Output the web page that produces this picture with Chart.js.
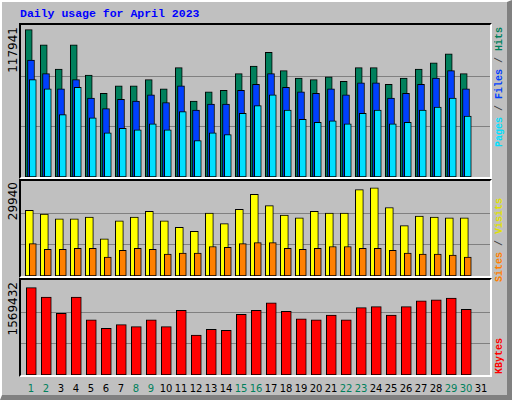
<!DOCTYPE html>
<html>
<head>
<meta charset="utf-8">
<script src="https://cdn.jsdelivr.net/npm/chart.js@4"></script>
<style>
  body { margin:0; width:512px; height:400px; overflow:hidden; }
  #frame { position:absolute; left:0; top:0; background:#c0c0c0;
           border-top:2px solid #fff; border-left:2px solid #fff; border-right:5px solid #808080; border-bottom:5px solid #808080; box-sizing:border-box; width:512px; height:400px; }
  .panel { position:absolute; left:19px; width:469px; border-top:2px solid #000; border-left:2px solid #000;
           border-right:2px solid #fff; border-bottom:2px solid #fff; }
  .panel canvas { display:block; }
  .title { position:absolute; left:20px; top:7px; font:bold 11.5px "Liberation Mono", monospace; color:#0000ff; }
  .vmax { position:absolute; left:6px; font:12px "DejaVu Sans", sans-serif; writing-mode:vertical-rl; transform:rotate(180deg); }
  .rlab { position:absolute; left:494px; font:bold 10px "Liberation Mono", monospace; writing-mode:vertical-rl; transform:rotate(180deg); white-space:nowrap; }
  .day { position:absolute; top:383px; width:16px; text-align:center; font:10px "DejaVu Sans", sans-serif; }
</style>
</head>
<body>
<div id="frame"></div>
<div class="title">Daily usage for April 2023</div>

<div class="panel" style="top:23px;height:152px"><canvas id="c1" width="469" height="152"></canvas></div>
<div class="panel" style="top:179px;height:95px"><canvas id="c2" width="469" height="95"></canvas></div>
<div class="panel" style="top:278px;height:95px"><canvas id="c3" width="469" height="95"></canvas></div>

<div class="vmax" style="top:27px">117941</div>
<div class="vmax" style="top:182px">29940</div>
<div class="vmax" style="top:282px">1569432</div>

<div class="rlab" style="top:27px"><span style="color:#00e0ff">Pages</span><span style="color:#404040"> / </span><span style="color:#0040ff">Files</span><span style="color:#404040"> / </span><span style="color:#00805c">Hits</span></div>
<div class="rlab" style="top:198px"><span style="color:#ff8000">Sites</span><span style="color:#404040"> / </span><span style="color:#e0e000">Visits</span></div>
<div class="rlab" style="top:338px;color:#ff0000">KBytes</div>

<div id="days"></div>

<script>
// ── DATA ──────────────────────────────────────────────
const days = Array.from({ length: 31 }, (_, i) => i + 1);
const weekendDays = [1, 2, 8, 9, 15, 16, 22, 23, 29, 30];

const hitsMax = 117941;
const hits  = [114400,102600,83700,102600,79000,64900,70800,70800,75500,68400,84900,59000,66000,67200,80200,86100,96700,82600,76700,75500,77800,74300,84900,84900,71900,76700,83700,88500,95500,80200,0];
const files = [90800,80200,68400,75500,61300,53100,60200,59000,63700,57800,70800,51900,56600,56600,67200,71900,80200,69600,66000,64900,68400,63700,73100,73100,61300,64900,71900,76700,82600,68400,0];
const pages = [75500,68400,48400,69600,46000,34200,37700,36600,41300,36600,50700,28300,34200,33000,49500,55400,63700,51900,44800,42500,43600,41300,49500,51900,41300,42500,51900,54300,61300,47200,0];

const visitsMax = 29940;
const visits = [20700,19500,18000,18000,18600,11700,17400,18600,20400,17400,15300,14100,19800,16500,21000,25700,22200,19200,18300,20400,19800,19800,27200,27800,21600,15900,18900,18600,18300,18300,0];
const sites  = [10200,8400,8400,8700,8700,6000,8100,8700,8400,6900,7200,7200,9300,9000,10200,10500,10500,8700,8400,8700,9300,9300,8700,8700,8100,7200,6900,6900,6600,6000,0];

const kbytesMax = 1569432;
const kbytes = [1444000,1287000,1020000,1287000,910000,769000,832000,800000,910000,800000,1067000,659000,753000,738000,1004000,1067000,1193000,1052000,926000,910000,989000,910000,1114000,1130000,989000,1130000,1224000,1240000,1271000,1083000,0];

// ── HELPERS ───────────────────────────────────────────
const points = (vals, off) => days.map((d, i) => ({ x: d + off, y: vals[i] })).filter(p => p.y > 0);

const gridThirds = {
  id: 'gridThirds',
  beforeDatasetsDraw(chart) {
    const { ctx, chartArea, scales } = chart;
    const max = scales.y.max;
    ctx.save();
    ctx.strokeStyle = '#808080';
    ctx.lineWidth = 1;
    [max / 3, 2 * max / 3].forEach(v => {
      const y = Math.round(scales.y.getPixelForValue(v)) + 0.5;
      ctx.beginPath();
      ctx.moveTo(chartArea.left, y);
      ctx.lineTo(chartArea.right, y);
      ctx.stroke();
    });
    ctx.restore();
  }
};

function barSet(data, color, width) {
  return {
    data, backgroundColor: color, borderColor: '#000', borderWidth: 1,
    borderSkipped: false, barThickness: width, grouped: false
  };
}

function makeChart(id, max, datasets) {
  new Chart(document.getElementById(id), {
    type: 'bar',
    data: { datasets },
    options: {
      responsive: false,
      animation: false,
      layout: { padding: 0 },
      plugins: { legend: { display: false }, tooltip: { enabled: false } },
      scales: {
        x: { type: 'linear', min: 0.333, max: 31.6, offset: false, bounds: 'ticks', display: false,
             afterDataLimits: s => { s.min = 0.333; s.max = 31.6; } },
        y: { min: 0, max, display: false }
      }
    },
    plugins: [gridThirds]
  });
}

// ── CHARTS (first dataset drawn on top) ───────────────
makeChart('c1', hitsMax, [
  barSet(points(pages, 0.12), '#00e0ff', 7),
  barSet(points(files, 0), '#0040ff', 7),
  barSet(points(hits, -0.15), '#00805c', 7)
]);
makeChart('c2', visitsMax, [
  barSet(points(sites, 0.12), '#ff8000', 7),
  barSet(points(visits, -0.11), '#ffff00', 8)
]);
makeChart('c3', kbytesMax, [
  barSet(points(kbytes, 0.02), '#ff0000', 10)
]);

// ── DAY LABELS ────────────────────────────────────────
document.getElementById('days').innerHTML = days.map(d => {
  const left = 21 + (d - 0.333) * 15 - 8;
  const col = weekendDays.includes(d) ? '#00805c' : '#000';
  return `<div class="day" style="left:${left}px;color:${col}">${d}</div>`;
}).join('');
</script>
</body>
</html>
